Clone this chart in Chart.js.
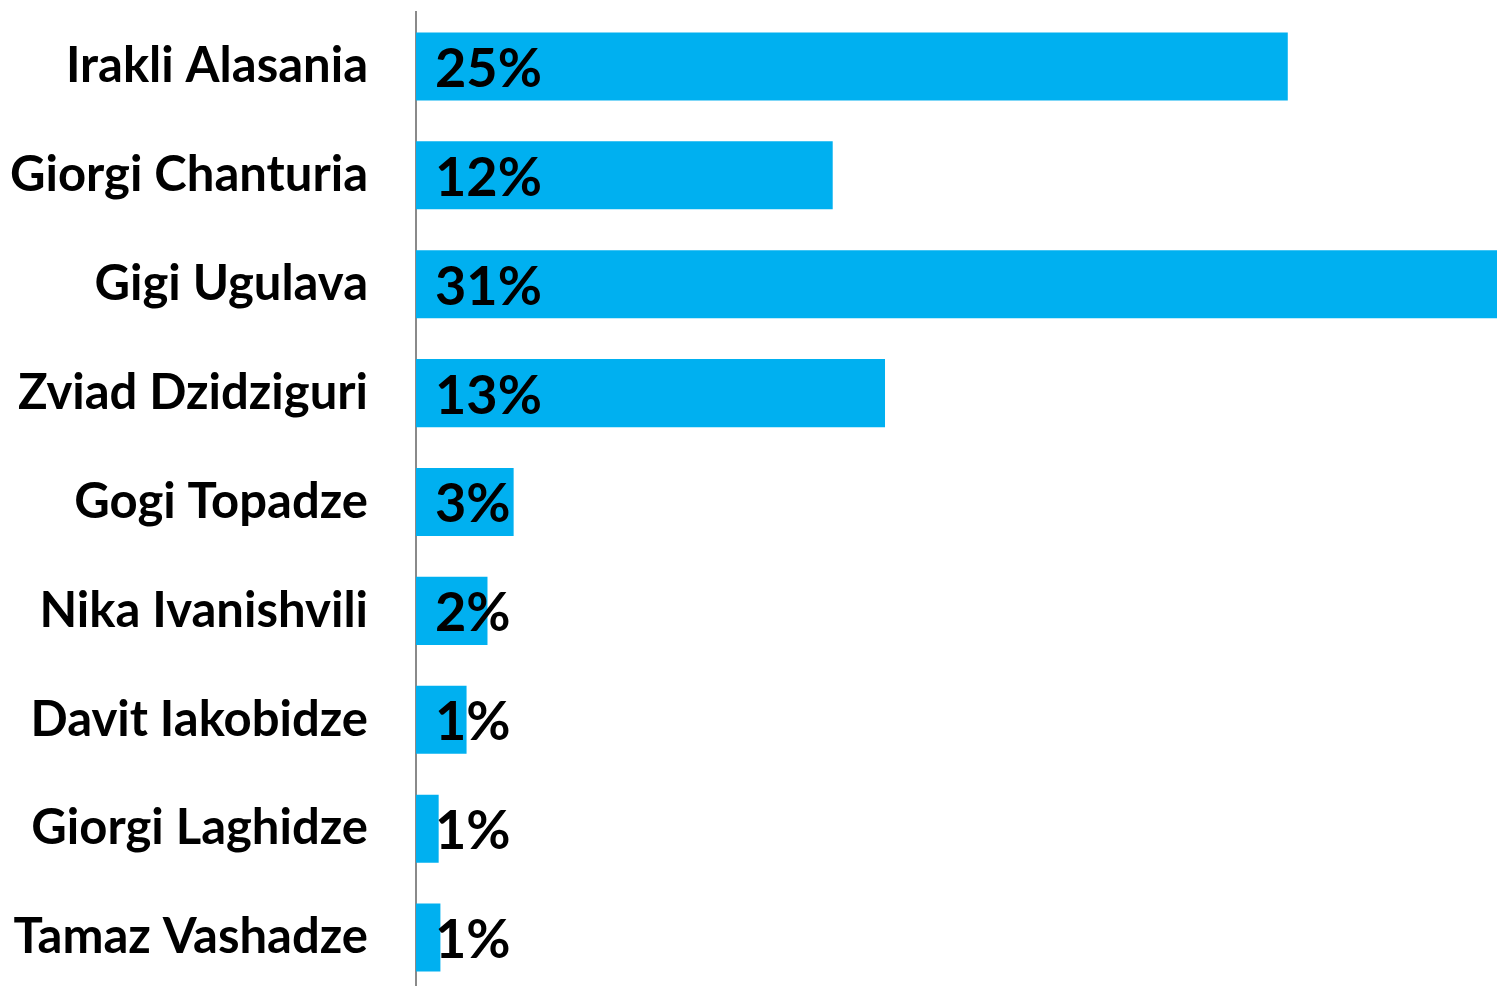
<!DOCTYPE html>
<html>
<head>
<meta charset="utf-8">
<script src="https://cdn.jsdelivr.net/npm/chart.js@4.4.1/dist/chart.umd.min.js"></script>
<style>
  html, body { margin: 0; padding: 0; background: #fff; overflow: hidden; }
  #wrap { width: 1497px; height: 992px; }
</style>
</head>
<body>
<div id="wrap"><canvas id="chart" width="1497" height="992"></canvas></div>
<script>
const candidates = [
    'Irakli Alasania',
    'Giorgi Chanturia',
    'Gigi Ugulava',
    'Zviad Dzidziguri',
    'Gogi Topadze',
    'Nika Ivanishvili',
    'Davit Iakobidze',
    'Giorgi Laghidze',
    'Tamaz Vashadze'
];
const support = [25, 11.95, 31, 13.45, 2.8, 2.05, 1.45, 0.65, 0.7];
const supportLabels = ['25%', '12%', '31%', '13%', '3%', '2%', '1%', '1%', '1%'];

// draw the rounded percentage inside each bar, left aligned near the axis
const valueLabels = {
    id: 'valueLabels',
    afterDatasetsDraw(chart) {
        const ctx = chart.ctx;
        const meta = chart.getDatasetMeta(0);
        const x0 = chart.scales.x.getPixelForValue(0);
        ctx.save();
        ctx.font = 'bold 54px Lato';
        ctx.fillStyle = '#000';
        ctx.textAlign = 'left';
        ctx.textBaseline = 'middle';
        meta.data.forEach((bar, i) => {
            ctx.fillText(supportLabels[i], x0 + 19, bar.y + 3);
        });
        ctx.restore();
    }
};

new Chart(document.getElementById('chart').getContext('2d'), {
    type: 'bar',
    data: {
        labels: candidates,
        datasets: [{
            data: support,
            backgroundColor: '#00B0F0',
            borderWidth: 0,
            categoryPercentage: 1,
            barPercentage: 0.625
        }]
    },
    options: {
        indexAxis: 'y',
        responsive: false,
        animation: false,
        layout: { padding: { top: 12, right: 0, bottom: 0, left: 0 } },
        plugins: {
            legend: { display: false },
            tooltip: { enabled: false }
        },
        scales: {
            x: {
                display: false,
                min: 0,
                max: 31
            },
            y: {
                grid: { display: false, drawTicks: false },
                border: { display: true, color: '#8a8a8a', width: 2 },
                ticks: {
                    color: '#000',
                    padding: 48,
                    font: { family: 'Lato', weight: 'bold', size: 49 }
                },
                afterFit(scale) {
                    scale.width = 416;
                    scale.paddingTop = 0;
                    scale.paddingBottom = 0;
                }
            }
        }
    },
    plugins: [valueLabels]
});
</script>
</body>
</html>
